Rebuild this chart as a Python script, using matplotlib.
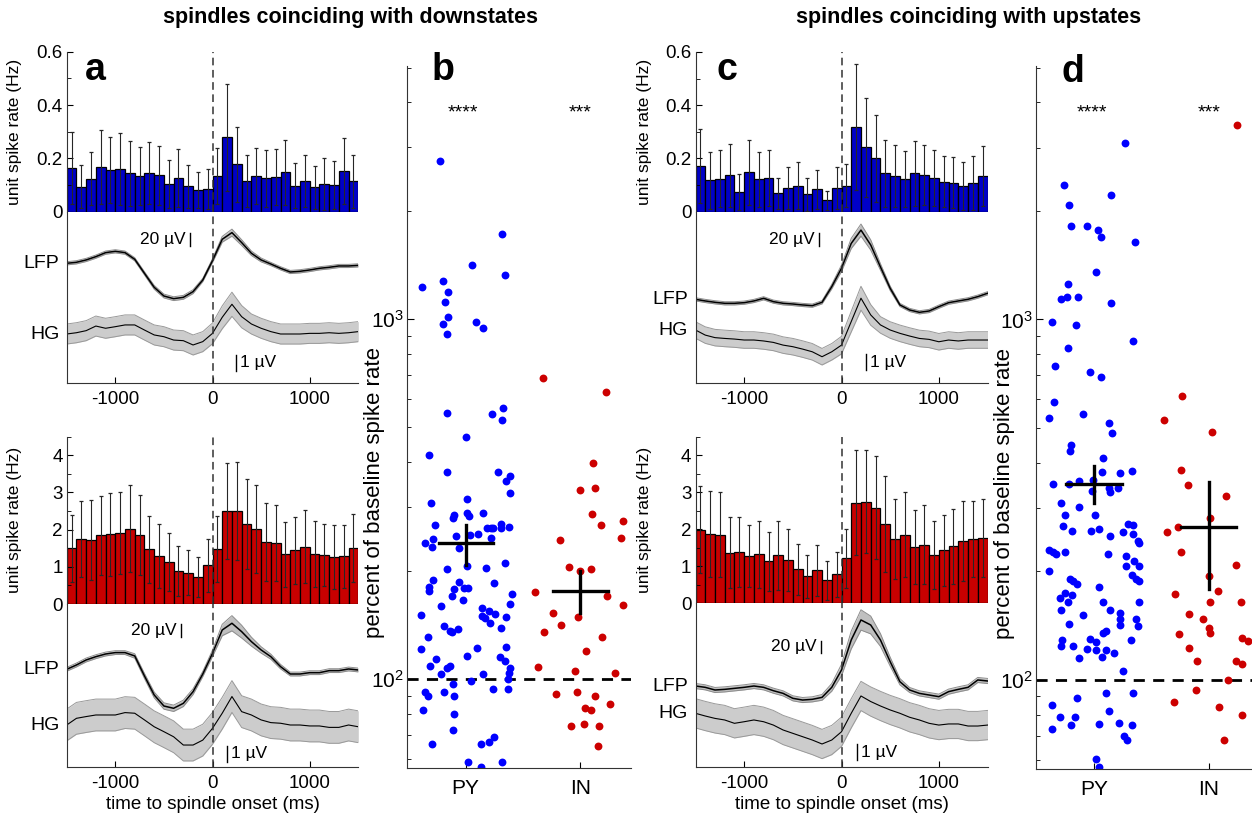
import numpy as np
import matplotlib
matplotlib.use("Agg")
import matplotlib.pyplot as plt
import matplotlib.transforms as mtransforms
from matplotlib.ticker import MultipleLocator, FixedLocator, LogLocator, NullFormatter, FuncFormatter

plt.rcParams['font.family'] = ['Liberation Sans', 'DejaVu Sans']
plt.rcParams['mathtext.default'] = 'regular'
plt.rcParams['axes.unicode_minus'] = False

W, H = 1252, 822

# 100 ms bins from -1500 to 1500 ms, traces sampled every 100 ms
bin_centers = np.arange(-1450, 1500, 100)
trace_t = np.arange(-1500, 1501, 100)

# ---- spike rates (Hz), mean and error ----
a_py_rate = [0.164, 0.094, 0.124, 0.166, 0.156, 0.160, 0.144, 0.134, 0.144, 0.136, 0.104, 0.126, 0.095, 0.081, 0.085,
             0.134, 0.279, 0.178, 0.115, 0.133, 0.126, 0.130, 0.148, 0.098, 0.116, 0.091, 0.105, 0.101, 0.153, 0.114]
a_py_err = [0.136, 0.082, 0.100, 0.139, 0.123, 0.134, 0.122, 0.110, 0.116, 0.110, 0.089, 0.109, 0.081, 0.068, 0.076,
            0.106, 0.201, 0.141, 0.099, 0.105, 0.107, 0.106, 0.122, 0.086, 0.098, 0.080, 0.098, 0.090, 0.125, 0.100]
a_in_rate = [1.50, 1.75, 1.72, 1.85, 1.87, 1.91, 2.03, 1.86, 1.47, 1.28, 1.13, 0.89, 0.84, 0.72, 1.04,
             1.48, 2.51, 2.51, 2.15, 2.01, 1.67, 1.64, 1.34, 1.45, 1.54, 1.34, 1.32, 1.27, 1.28, 1.50]
a_in_err = [0.90, 1.02, 1.07, 1.06, 1.12, 1.10, 1.17, 1.08, 0.91, 0.86, 0.77, 0.67, 0.60, 0.54, 0.72,
            0.88, 1.29, 1.32, 1.20, 1.18, 1.06, 1.01, 0.87, 0.90, 0.98, 0.88, 0.84, 0.86, 0.84, 0.91]
c_py_rate = [0.171, 0.118, 0.124, 0.137, 0.074, 0.148, 0.122, 0.126, 0.069, 0.089, 0.098, 0.065, 0.084, 0.043, 0.089,
             0.098, 0.319, 0.242, 0.200, 0.144, 0.134, 0.122, 0.144, 0.137, 0.126, 0.113, 0.109, 0.097, 0.108, 0.133]
c_py_err = [0.139, 0.107, 0.107, 0.119, 0.067, 0.123, 0.103, 0.104, 0.059, 0.080, 0.088, 0.063, 0.073, 0.036, 0.079,
            0.080, 0.237, 0.185, 0.163, 0.126, 0.117, 0.105, 0.123, 0.113, 0.105, 0.097, 0.095, 0.089, 0.102, 0.112]
c_in_rate = [1.99, 1.88, 1.85, 1.37, 1.39, 1.28, 1.33, 1.14, 1.30, 1.17, 0.92, 0.73, 0.89, 0.62, 0.78,
             1.22, 2.72, 2.75, 2.59, 2.14, 1.73, 1.86, 1.52, 1.59, 1.31, 1.44, 1.54, 1.68, 1.74, 1.76]
c_in_err = [1.18, 1.16, 1.15, 0.96, 0.95, 0.85, 0.91, 0.80, 0.94, 0.83, 0.69, 0.58, 0.69, 0.53, 0.61,
            0.80, 1.42, 1.40, 1.40, 1.30, 1.08, 1.16, 1.01, 1.06, 0.91, 0.96, 1.01, 1.08, 1.02, 1.06]

# ---- LFP (uV) and high gamma (uV) averages, relative to -1500 ms ----
a_top_lfp = [0, 1.6, 5.3, 10.5, 16.8, 18.9, 16.8, 6.3, -15.8, -37.8, -51.5, -55.7, -53.6, -44.6, -26.3,
             4.2, 37.8, 48.3, 32.6, 15.8, 5.3, -1.1, -7.9, -13.7, -12.6, -10.5, -7.9, -6.3, -4.2, -4.2, -3.2]
a_top_lfp_sem = [2.5, 2.5, 2.5, 2.5, 2.5, 2.5, 2.5, 2.5, 2.5, 3, 3, 3, 3, 3, 2.5,
                 3, 4.5, 5.5, 4.5, 3.5, 3, 2.5, 2.5, 2.5, 2.5, 2.5, 2.5, 2.5, 2.5, 2.5, 2.5]
a_top_hg = [0, 0.08, 0.21, 0.5, 0.36, 0.46, 0.57, 0.57, 0.25, -0.06, -0.17, -0.38, -0.42, -0.69, -0.48,
            0.04, 1.05, 1.87, 1.09, 0.63, 0.36, 0.15, 0, 0, 0, 0.04, 0.04, 0.08, 0.04, 0.08, 0.15]
a_top_hg_sem = [0.63] * 15 + [0.65, 0.72, 0.76, 0.70] + [0.63] * 12

a_bot_lfp = [0, 6.8, 14.7, 19.9, 24.1, 26.3, 26.3, 21.0, -10.5, -40.4, -57.8, -61.4, -53.6, -35.2, -7.4,
             25.2, 61.9, 72.5, 59.3, 43.6, 30.5, 19.9, 4.2, -7.4, -7.4, -5.3, -5.3, -2.1, -2.1, 0.5, -1.1]
a_bot_lfp_sem = [3, 3, 3, 3, 3, 3, 3, 3.5, 4, 4.5, 5, 5, 5, 4.5, 4,
                 5, 9, 12, 10, 7, 5, 4, 3.5, 3, 3, 3, 3, 3, 3, 3, 3]
a_bot_hg = [0, 0.42, 0.53, 0.63, 0.63, 0.63, 0.78, 0.74, 0.32, -0.11, -0.42, -0.74, -1.26, -1.26, -0.95,
            -0.21, 0.74, 1.79, 0.84, 0.63, 0.32, 0.15, 0.11, 0, 0, -0.06, -0.06, -0.15, -0.15, 0, -0.11]
a_bot_hg_sem = [1.0] * 31

c_top_lfp = [0, -2.6, -4.7, -6.3, -6.3, -5.3, -2.6, 1.6, -3.7, -6.3, -7.4, -8.9, -10.0, -4.7, 20.0,
             49.0, 88.0, 109.0, 85.6, 51.0, 17.3, -8.9, -16.8, -20.5, -18.4, -11.6, -5.3, -2.6, 0, 4.2, 9.5]
c_top_lfp_sem = [2.5] * 13 + [2.5, 3.5, 5, 8, 9.5, 8, 5, 3.5] + [2.5] * 10
c_top_hg = [0, -0.32, -0.48, -0.53, -0.57, -0.63, -0.63, -0.69, -0.78, -0.95, -1.05, -1.2, -1.37, -1.68, -1.37,
            -0.95, 0.53, 2.0, 0.95, 0.32, 0, -0.21, -0.38, -0.53, -0.59, -0.74, -0.63, -0.69, -0.63, -0.63, -0.63]
c_top_hg_sem = [0.52] * 15 + [0.55, 0.65, 0.75, 0.65] + [0.52] * 12

c_bot_lfp = [0, -2.1, -6.3, -5.3, -3.7, -2.1, 0, -2.1, -7.4, -11.6, -19.4, -22.1, -21.0, -17.9, -2.1,
             25.2, 72.5, 104.0, 96.1, 72.5, 38.3, 6.8, -6.3, -11.6, -14.2, -16.8, -8.9, -5.3, -2.1, 9.5, 7.9]
c_bot_lfp_sem = [4] * 13 + [4.5, 6, 9, 14, 16, 14, 10, 7, 5] + [4] * 9
c_bot_hg = [0, -0.17, -0.32, -0.42, -0.63, -0.53, -0.42, -0.53, -0.74, -1.05, -1.26, -1.47, -1.68, -1.93, -1.68,
            -1.16, 0, 1.09, 0.74, 0.46, 0.21, 0, -0.25, -0.42, -0.63, -0.74, -0.67, -0.67, -0.8, -0.8, -0.74]
c_bot_hg_sem = [0.92] * 31

# ---- per-unit change of spike rate (% of baseline) ----
b_py_x = [0.78, 1.32, 1.06, 1.34, 0.62, 0.80, 0.85, 0.82, 0.85, 0.80, 0.84, 1.09, 1.15, 0.84, 1.23, 1.33, 1.32, 1.00,
          0.68, 0.84, 1.28, 1.35, 1.39, 1.39, 0.70, 1.01, 0.90, 0.89, 1.01, 1.03, 1.15, 0.73, 1.31, 1.38, 1.19, 1.22,
          1.24, 1.31, 1.11, 1.04, 0.92, 1.22, 0.72, 0.65, 0.71, 0.94, 1.34, 0.84, 1.01, 1.18, 0.72, 0.94, 0.68, 0.68,
          0.90, 0.99, 1.02, 1.25, 1.40, 0.88, 0.98, 1.39, 0.79, 1.14, 0.61, 1.20, 1.26, 1.14, 1.17, 1.21, 1.35, 0.81,
          0.86, 0.88, 0.93, 1.31, 0.67, 0.61, 1.10, 1.35, 0.74, 0.69, 1.01, 1.30, 1.34, 0.86, 0.84, 0.79, 1.15, 1.39,
          1.38, 1.05, 1.37, 1.37, 1.24, 0.89, 0.81, 0.65, 0.67, 0.90, 0.63, 0.90, 0.89, 0.71, 1.13, 1.20, 1.25, 1.02,
          1.13, 1.32]
b_py_y = [2750, 1720, 1410, 1325, 1225, 1276, 1186, 1115, 1013, 970, 912, 983, 944, 547, 544, 565, 524, 469,
          419, 376, 376, 356, 366, 328, 308, 317, 285, 281, 290, 283, 290, 268, 270, 265, 262, 262,
          262, 262, 253, 252, 249, 247, 245, 239, 232, 231, 210, 202, 206, 203, 188, 186, 180, 176,
          178, 179, 179, 185, 172, 170, 166, 162, 160, 158, 151, 155, 152, 150, 148, 143, 149, 140,
          136, 135, 138, 139, 131, 121, 122, 123, 114, 109, 116, 115, 112, 109, 107, 103, 103, 107,
          104, 98.7, 100, 94, 94, 97, 92, 92, 90, 90, 82, 80, 72, 66, 66, 67, 69, 59,
          57, 59]
b_in_x = [1.67, 2.22, 2.11, 2.00, 2.13, 2.10, 2.18, 2.37, 2.35, 1.82, 1.90, 2.00, 2.09, 1.60, 2.23, 2.37, 1.76, 1.98,
          1.83, 1.68, 2.19, 2.05, 1.63, 1.95, 2.30, 1.79, 1.97, 2.13, 2.26, 2.04, 2.09, 1.92, 2.03, 2.16, 2.15]
b_in_y = [687, 629, 399, 336, 340, 288, 268, 275, 246, 244, 205, 200, 202, 174, 170, 161, 153, 149,
          141, 135, 131, 120, 108, 105, 104, 91, 92, 90, 85, 83, 82, 74, 75, 74, 65]
b_py_stat = [239, 208, 268]   # mean, lower, upper
b_in_stat = [176, 153, 200]

d_py_x = [1.27, 0.74, 1.15, 0.78, 0.80, 0.94, 1.03, 1.06, 1.36, 1.02, 0.77, 0.71, 0.76, 0.86, 1.15, 0.63, 0.84, 1.34,
          0.77, 0.66, 0.96, 1.06, 0.65, 0.61, 0.90, 1.13, 1.16, 0.80, 0.79, 1.08, 0.64, 0.78, 0.87, 0.99, 1.07, 1.23,
          1.33, 0.98, 1.13, 1.14, 1.21, 0.71, 0.87, 0.75, 1.01, 0.73, 0.81, 0.97, 1.04, 1.14, 1.25, 1.30, 1.34, 1.34,
          1.38, 1.39, 0.61, 0.64, 0.67, 0.75, 1.12, 1.28, 1.35, 1.28, 1.39, 0.61, 1.33, 1.37, 1.39, 0.79, 0.82, 0.85,
          1.04, 0.75, 0.81, 0.70, 0.77, 1.08, 1.39, 0.71, 1.14, 0.90, 1.23, 1.23, 1.37, 0.78, 1.23, 1.38, 1.10, 1.08,
          0.72, 0.71, 0.82, 0.96, 1.02, 0.94, 1.02, 1.10, 1.07, 1.17, 1.32, 0.87, 1.25, 1.34, 1.10, 0.85, 0.63, 1.13,
          0.70, 0.83, 0.80, 1.04, 1.22, 1.33, 0.63, 1.26, 1.29, 1.02, 1.04]
d_py_y = [3090, 2356, 2208, 2084, 1815, 1815, 1766, 1693, 1640, 1357, 1254, 1142, 1156, 1158, 1110, 987, 964, 874,
          836, 745, 716, 693, 589, 532, 548, 517, 484, 448, 432, 413, 350, 350, 357, 359, 378, 374,
          381, 334, 341, 333, 341, 310, 301, 286, 287, 267, 259, 259, 263, 250, 258, 271, 269, 254,
          243, 240, 230, 226, 223, 227, 223, 221, 214, 207, 207, 201, 196, 190, 188, 190, 188, 185,
          181, 174, 172, 169, 165, 164, 164, 156, 156, 151, 153, 148, 148, 143, 142, 141, 137, 135,
          129, 124, 124, 130, 127, 122, 121, 121, 116, 119, 129, 115, 106, 92, 92, 89, 85, 82,
          79, 79, 75, 75.5, 76, 75, 73, 70, 68, 60.5, 57.5]
d_in_x = [2.25, 1.77, 1.61, 2.03, 1.76, 1.82, 2.15, 2.01, 1.73, 1.64, 1.76, 2.24, 2.00, 1.71, 2.08, 2.01, 2.28,
          1.83, 1.95, 2.00, 2.01, 1.74, 2.29, 2.34, 1.83, 1.90, 2.24, 2.29, 2.17, 1.89, 1.70, 2.09, 2.29, 2.13]
d_in_y = [3475, 614, 525, 488, 382, 347, 323, 282, 265, 257, 226, 208, 194, 173, 176, 165, 165,
          152, 148, 139, 135, 134, 131, 128, 123, 113, 113, 111, 100, 94, 87, 84, 80, 68]
d_py_stat = [350, 309, 391]
d_in_stat = [266, 179, 353]

blue_bar = '#0000c8'
red_bar = '#c80000'
blue_dot = '#0000ff'
red_dot = '#cc0000'

LFP_PX = 0.635   # display px per uV (LFP)
HG_PX = 15.9     # display px per uV (high gamma)

fig = plt.figure(figsize=(W / 100, H / 100), dpi=100)


def px_axes(x0, y0, x1, y1):
    return fig.add_axes([x0 / W, 1 - y1 / H, (x1 - x0) / W, (y1 - y0) / H])


def psth(x0, x1, yt, ym, yb, rate, err, color, ymax, major, minor,
         lfp, lfp_sem, hg, hg_sem, lfp_base, hg_base, lfp_bar, hg_bar, xlabel=False):
    axb = px_axes(x0, yt, x1, ym)
    axb.bar(bin_centers, rate, width=100, color=color, edgecolor='k', linewidth=0.9)
    axb.errorbar(bin_centers, rate, yerr=err, fmt='none', ecolor='0.15', elinewidth=0.8,
                 capsize=1.6, capthick=0.9)
    axb.axvline(0, color='0.2', lw=1.1, ls=(0, (5, 3)))
    axb.set_xlim(-1500, 1500)
    axb.set_ylim(0, ymax)
    for s in ['top', 'right', 'bottom']:
        axb.spines[s].set_visible(False)
    axb.spines['left'].set_color('0.2')
    axb.set_xticks([])
    axb.yaxis.set_major_locator(MultipleLocator(major))
    axb.yaxis.set_minor_locator(MultipleLocator(minor))
    axb.yaxis.set_major_formatter(FuncFormatter(lambda v, p: f"{v:g}"))
    axb.tick_params(axis='y', which='both', direction='in', labelsize=13.5, pad=3)
    axb.tick_params(axis='y', which='major', length=4)
    axb.tick_params(axis='y', which='minor', length=3)
    axb.set_ylabel('unit spike rate (Hz)', fontsize=12.5)
    axb.yaxis.set_label_coords((22 - x0) / (x1 - x0) if x0 < 400 else (652 - x0) / (x1 - x0), 0.5)

    axt = px_axes(x0, ym, x1, yb)
    hgt = yb - ym
    lfp = np.array(lfp); lfp_sem = np.array(lfp_sem)
    hg = np.array(hg); hg_sem = np.array(hg_sem)
    ly = lfp_base + lfp * LFP_PX
    ls = lfp_sem * LFP_PX
    hy = hg_base + hg * HG_PX
    hs = hg_sem * HG_PX
    axt.fill_between(trace_t, hy - hs, hy + hs, color='0.8', lw=0)
    axt.plot(trace_t, hy - hs, color='0.6', lw=0.7)
    axt.plot(trace_t, hy + hs, color='0.6', lw=0.7)
    axt.plot(trace_t, hy, color='k', lw=0.8)
    axt.fill_between(trace_t, ly - ls, ly + ls, color='0.75', lw=0)
    axt.plot(trace_t, ly - ls, color='0.55', lw=0.7)
    axt.plot(trace_t, ly + ls, color='0.55', lw=0.7)
    axt.plot(trace_t, ly, color='k', lw=1.1)
    axt.axvline(0, color='0.2', lw=1.1, ls=(0, (5, 3)))
    axt.set_xlim(-1500, 1500)
    axt.set_ylim(0, hgt)
    for s in ['top', 'right']:
        axt.spines[s].set_visible(False)
    axt.spines['left'].set_color('0.2')
    axt.spines['bottom'].set_color('0.2')
    axt.set_yticks([])
    axt.set_xticks([-1000, 0, 1000])
    axt.tick_params(axis='x', direction='in', length=4, labelsize=13.5, pad=6)
    tr = mtransforms.blended_transform_factory(axt.transAxes, axt.transData)
    axt.text(-0.025, lfp_base, 'LFP', transform=tr, ha='right', va='center', fontsize=14)
    axt.text(-0.025, hg_base, 'HG', transform=tr, ha='right', va='center', fontsize=14)
    # scale bars
    bx, by = lfp_bar
    L = 20 * LFP_PX
    axt.plot([bx, bx], [by, by + L], color='k', lw=1)
    axt.text(bx - 45, by + L / 2, '20 µV', ha='right', va='center', fontsize=12.5)
    hx, hyb = hg_bar
    axt.plot([hx, hx], [hyb, hyb + HG_PX], color='k', lw=1)
    axt.text(hx + 45, hyb + HG_PX / 2, '1 µV', ha='left', va='center', fontsize=12.5)
    if xlabel:
        axt.set_xlabel('time to spindle onset (ms)', fontsize=13.5, labelpad=3)
    return axb, axt


def scatter_panel(x0, x1, y0, y1, pyx, pyy, inx, iny, pys, ins, hw_py, hw_in, ylab_x):
    ax = px_axes(x0, y0, x1, y1)
    ax.set_yscale('log')
    ax.set_xlim(0.49, 2.44)
    ax.set_ylim(56.6, 5050)
    ax.axhline(100, color='k', lw=2, ls=(0, (4, 3)), zorder=1)
    ax.scatter(pyx, pyy, s=32, color=blue_dot, lw=0, zorder=2)
    ax.scatter(inx, iny, s=32, color=red_dot, lw=0, zorder=2)
    for xc, st, hw in [(1, pys, hw_py), (2, ins, hw_in)]:
        ax.plot([xc - hw, xc + hw], [st[0], st[0]], color='k', lw=2.4, zorder=3)
        ax.plot([xc, xc], [st[1], st[2]], color='k', lw=2.4, zorder=3)
    ax.text(0.98, 3750, '****', ha='center', va='center', fontsize=14)
    ax.text(2.0, 3750, '***', ha='center', va='center', fontsize=14)
    for s in ['top', 'right']:
        ax.spines[s].set_visible(False)
    ax.spines['left'].set_color('0.2')
    ax.spines['bottom'].set_color('0.2')
    ax.set_xticks([1, 2])
    ax.set_xticklabels(['PY', 'IN'])
    ax.yaxis.set_major_locator(FixedLocator([100, 1000]))
    ax.yaxis.set_major_formatter(FuncFormatter(lambda v, p: r'$10^{%d}$' % round(np.log10(v))))
    ax.yaxis.set_minor_locator(LogLocator(base=10, subs=np.arange(2, 10)))
    ax.yaxis.set_minor_formatter(NullFormatter())
    ax.tick_params(which='both', direction='in', labelsize=15)
    ax.tick_params(axis='x', length=4, pad=8)
    ax.tick_params(axis='y', which='major', length=5, pad=2)
    ax.tick_params(axis='y', which='minor', length=3)
    ax.set_ylabel('percent of baseline spike rate', fontsize=16)
    ax.yaxis.set_label_coords(ylab_x, 0.392)
    return ax


# panel a (downstates)
psth(66.7, 358.3, 51.7, 211.7, 382.7, a_py_rate, a_py_err, blue_bar, 0.6, 0.2, 0.1,
     a_top_lfp, a_top_lfp_sem, a_top_hg, a_top_hg_sem, 119.4, 48.7, (-231, 136.7), (242, 12))
psth(66.7, 358.3, 436.7, 604, 766.7, a_in_rate, a_in_err, red_bar, 4.5, 1, 0.5,
     a_bot_lfp, a_bot_lfp_sem, a_bot_hg, a_bot_hg_sem, 97.4, 41.7, (-324, 130), (146, 5), xlabel=True)
# panel c (upstates)
psth(695.5, 987.5, 52, 211.7, 382.7, c_py_rate, c_py_err, blue_bar, 0.6, 0.2, 0.1,
     c_top_lfp, c_top_lfp_sem, c_top_hg, c_top_hg_sem, 83.4, 52.7, (-228, 137), (247, 12.7))
psth(695.5, 987.5, 437, 603.3, 766.7, c_in_rate, c_in_err, red_bar, 4.5, 1, 0.5,
     c_bot_lfp, c_bot_lfp_sem, c_bot_hg, c_bot_hg_sem, 80.7, 53.4, (-211, 113.4), (158, 6.7), xlabel=True)

# panels b and d
scatter_panel(407, 631, 66, 768, b_py_x, b_py_y, b_in_x, b_in_y, b_py_stat, b_in_stat, 0.235, 0.236, -0.098)
scatter_panel(1035.7, 1259, 66, 769, d_py_x, d_py_y, d_in_x, d_in_y, d_py_stat, d_in_stat, 0.245, 0.24, -0.092)

fig.text(350 / W, 1 - 18 / H, 'spindles coinciding with downstates', ha='center', va='center',
         fontsize=15.5, fontweight='bold')
fig.text(969 / W, 1 - 18 / H, 'spindles coinciding with upstates', ha='center', va='center',
         fontsize=15.5, fontweight='bold')
for letter, x, y in [('a', 95, 70), ('b', 443, 70), ('c', 727, 70), ('d', 1073, 72)]:
    fig.text(x / W, 1 - y / H, letter, ha='center', va='center', fontsize=27, fontweight='bold')

fig.savefig('out.png', dpi=100)
